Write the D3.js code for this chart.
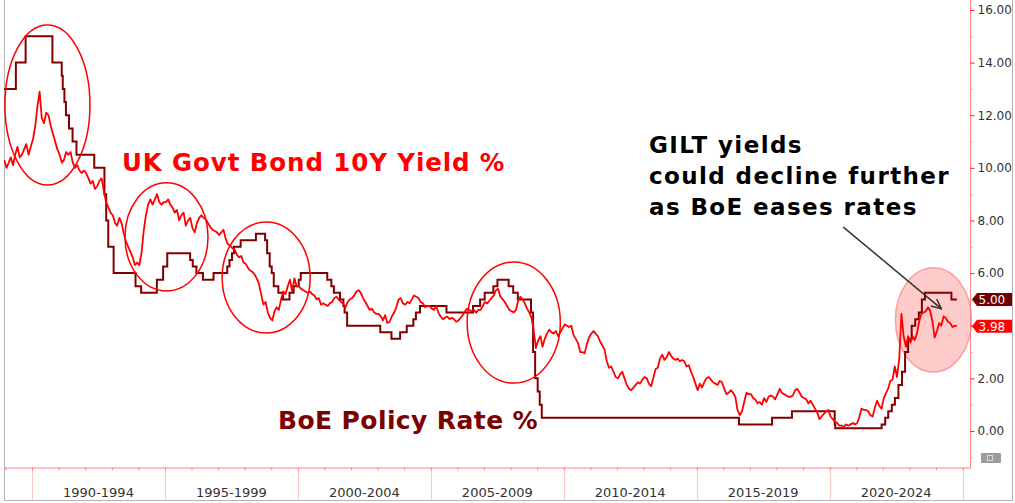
<!DOCTYPE html>
<html lang="en">

<head>
    <meta charset="UTF-8">
    <title>UK Gilt 10Y vs BoE Policy Rate</title>
    <style>
        body { margin: 0; background: #fff; }
        svg { display: block; font-family: "DejaVu Sans", sans-serif; }
    </style>
</head>

<body>
    <svg width="1015" height="503"></svg>
    <script src="https://d3js.org/d3.v7.min.js"></script>
    <script>

        // UK Govt Bond 10Y yield %, one value per month starting Dec 1988
        const giltStart = "1988-12-15";
        const gilt10y = [
            10.3,
            10.0, 10.2, 10.4, 10.1, 10.5, 10.8, 10.4, 10.5, 10.7, 10.9, 10.5, 10.8,   // 1989
            11.1, 11.6, 12.3, 12.9, 11.9, 11.7, 12.1, 12.0, 11.6, 11.3, 11.0, 10.7,   // 1990
            10.5, 10.2, 10.3, 10.6, 10.5, 10.6, 10.2, 10.0, 10.1, 9.9, 9.8, 9.9,      // 1991
            9.8, 9.6, 9.4, 9.5, 9.2, 9.3, 9.5, 9.6, 9.1, 8.7, 8.5, 8.3,               // 1992
            8.2, 7.9, 7.8, 8.1, 7.9, 7.5, 7.2, 7.0, 6.8, 6.6, 6.3, 6.4,               // 1993
            6.3, 6.8, 7.6, 8.2, 8.6, 8.8, 8.6, 8.8, 9.0, 8.7, 8.6, 8.7,               // 1994
            8.7, 8.8, 8.6, 8.5, 8.3, 8.4, 8.0, 8.2, 8.3, 7.8, 8.0, 8.1,               // 1995
            7.7, 7.55, 7.9, 8.1, 8.2, 8.1, 8.05, 7.9, 7.75, 7.65, 7.6, 7.55,          // 1996
            7.45, 7.55, 7.65, 7.3, 7.1, 7.05, 6.95, 6.9, 6.7, 6.6, 6.65, 6.4,         // 1997
            6.35, 6.2, 6.1, 6.05, 5.95, 5.8, 5.6, 5.2, 4.8, 4.9, 4.5, 4.3,            // 1998
            4.2, 4.55, 4.7, 4.6, 5.0, 5.3, 5.2, 5.5, 5.75, 5.3, 5.8, 5.5,             // 1999
            5.5, 5.4, 5.35, 5.3, 5.25, 5.3, 5.2, 5.15, 5.0, 5.05, 4.8, 4.85,          // 2000
            4.8, 4.75, 4.85, 4.9, 5.05, 5.1, 5.0, 4.9, 4.85, 4.7, 4.9, 5.0,           // 2001
            5.05, 5.15, 5.3, 5.35, 5.25, 5.05, 4.9, 4.75, 4.6, 4.65, 4.5, 4.45,       // 2002
            4.45, 4.35, 4.2, 4.4, 4.1, 4.15, 4.35, 4.5, 4.7, 5.0, 5.05, 4.85,         // 2003
            4.8, 4.9, 4.85, 5.0, 5.15, 5.1, 5.05, 4.9, 4.85, 4.7, 4.75, 4.75,         // 2004
            4.65, 4.6, 4.75, 4.5, 4.35, 4.25, 4.3, 4.35, 4.25, 4.3, 4.25, 4.15,       // 2005
            4.2, 4.3, 4.4, 4.55, 4.65, 4.6, 4.55, 4.6, 4.5, 4.6, 4.6, 4.75,           // 2006
            4.9, 4.85, 4.95, 5.05, 5.15, 5.35, 5.4, 5.1, 5.0, 4.9, 4.75, 4.6,         // 2007
            4.55, 4.5, 4.6, 4.95, 5.1, 5.0, 4.85, 4.65, 4.5, 4.3, 3.8, 3.15,          // 2008
            3.45, 3.6, 3.2, 3.5, 3.7, 3.85, 3.75, 3.7, 3.8, 3.6, 3.75, 3.9,           // 2009
            4.05, 4.0, 3.95, 4.0, 3.65, 3.5, 3.35, 3.0, 3.0, 2.95, 3.3, 3.55,         // 2010
            3.7, 3.8, 3.7, 3.6, 3.4, 3.25, 3.1, 2.65, 2.4, 2.45, 2.25, 2.05,          // 2011
            2.0, 2.15, 2.25, 2.0, 1.75, 1.6, 1.55, 1.65, 1.75, 1.85, 1.8, 1.95,       // 2012
            2.05, 2.0, 1.8, 1.7, 2.0, 2.35, 2.4, 2.75, 2.9, 2.7, 2.8, 3.0,            // 2013
            2.85, 2.75, 2.7, 2.75, 2.65, 2.7, 2.65, 2.45, 2.5, 2.25, 2.05, 1.8,       // 2014
            1.55, 1.8, 1.65, 1.85, 2.0, 2.05, 1.95, 1.85, 1.8, 1.75, 1.9, 1.85,       // 2015
            1.6, 1.4, 1.45, 1.55, 1.45, 1.3, 0.8, 0.6, 0.75, 1.1, 1.45, 1.4,          // 2016
            1.4, 1.25, 1.2, 1.05, 1.1, 1.0, 1.25, 1.1, 1.3, 1.35, 1.3, 1.2,           // 2017
            1.4, 1.6, 1.45, 1.4, 1.35, 1.3, 1.3, 1.35, 1.55, 1.6, 1.45, 1.3,          // 2018
            1.25, 1.2, 1.05, 1.15, 1.0, 0.85, 0.7, 0.45, 0.55, 0.65, 0.75, 0.8,       // 2019
            0.55, 0.45, 0.35, 0.3, 0.2, 0.2, 0.15, 0.25, 0.2, 0.25, 0.3, 0.25,        // 2020
            0.3, 0.55, 0.85, 0.8, 0.8, 0.75, 0.6, 0.55, 0.9, 1.15, 0.95, 0.85,        // 2021
            1.25, 1.45, 1.6, 1.9, 1.95, 2.45, 2.05, 2.75, 4.45, 3.6, 3.2, 3.6,        // 2022
            3.35, 3.6, 3.45, 3.7, 4.15, 4.45, 4.5, 4.55, 4.7, 4.55, 4.15, 3.55,       // 2023
            3.8, 4.1, 4.0, 4.35, 4.3, 4.15, 4.1, 3.95, 4.0, 3.98                      // 2024
        ];

        // BoE policy rate %, date of each change
        const policyChanges = [
            ["1988-12-01", 13], ["1989-05-24", 14], ["1989-10-05", 15], ["1990-10-08", 14],
            ["1991-02-13", 13.5], ["1991-02-27", 13], ["1991-03-22", 12.5], ["1991-04-12", 12],
            ["1991-05-24", 11.5], ["1991-07-12", 11], ["1991-09-04", 10.5], ["1992-05-05", 10],
            ["1992-09-22", 9], ["1992-10-16", 8], ["1992-11-13", 7], ["1993-01-26", 6],
            ["1993-11-23", 5.5], ["1994-02-08", 5.25], ["1994-09-12", 5.75], ["1994-12-07", 6.25],
            ["1995-02-02", 6.75], ["1995-12-13", 6.5], ["1996-01-18", 6.25], ["1996-03-08", 6],
            ["1996-06-06", 5.75], ["1996-10-30", 6], ["1997-05-06", 6.25], ["1997-06-06", 6.5],
            ["1997-07-10", 6.75], ["1997-08-07", 7], ["1997-11-06", 7.25], ["1998-06-04", 7.5],
            ["1998-10-08", 7.25], ["1998-11-05", 6.75], ["1998-12-10", 6.25], ["1999-01-07", 6],
            ["1999-02-04", 5.5], ["1999-04-08", 5.25], ["1999-06-10", 5], ["1999-09-08", 5.25],
            ["1999-11-04", 5.5], ["2000-01-13", 5.75], ["2000-02-10", 6], ["2001-02-08", 5.75],
            ["2001-04-05", 5.5], ["2001-05-10", 5.25], ["2001-08-02", 5], ["2001-09-18", 4.75],
            ["2001-10-04", 4.5], ["2001-11-08", 4], ["2003-02-06", 3.75], ["2003-07-10", 3.5],
            ["2003-11-06", 3.75], ["2004-02-05", 4], ["2004-05-06", 4.25], ["2004-06-10", 4.5],
            ["2004-08-05", 4.75], ["2005-08-04", 4.5], ["2006-08-03", 4.75], ["2006-11-09", 5],
            ["2007-01-11", 5.25], ["2007-05-10", 5.5], ["2007-07-05", 5.75], ["2007-12-06", 5.5],
            ["2008-02-07", 5.25], ["2008-04-10", 5], ["2008-10-08", 4.5], ["2008-11-06", 3],
            ["2008-12-04", 2], ["2009-01-08", 1.5], ["2009-02-05", 1], ["2009-03-05", 0.5],
            ["2016-08-04", 0.25], ["2017-11-02", 0.5], ["2018-08-02", 0.75], ["2020-03-11", 0.25],
            ["2020-03-19", 0.1], ["2021-12-16", 0.25], ["2022-02-03", 0.5], ["2022-03-17", 0.75],
            ["2022-05-05", 1], ["2022-06-16", 1.25], ["2022-08-04", 1.75], ["2022-09-22", 2.25],
            ["2022-11-03", 3], ["2022-12-15", 3.5], ["2023-02-02", 4], ["2023-03-23", 4.25],
            ["2023-05-11", 4.5], ["2023-06-22", 5], ["2023-08-03", 5.25], ["2024-08-01", 5],
            ["2024-10-15", 5]
        ];

        const yTicks = [0, 2, 4, 6, 8, 10, 12, 14, 16];
        const yMinorTicks = [-1, 1, 3, 5, 7, 9, 11, 13, 15];
        const periodStarts = [1990, 1995, 2000, 2005, 2010, 2015, 2020, 2025];
        const periodLabels = ["1990-1994", "1995-1999", "2000-2004", "2005-2009",
            "2010-2014", "2015-2019", "2020-2024"];

        // circled episodes: [from, to, top value, bottom value]
        const circled = [
            ["1988-12-25", "1992-03-07", 15.43, 9.35],
            ["1993-07-01", "1996-08-15", 9.43, 5.32],
            ["1997-02-25", "2000-06-18", 7.94, 3.72],
            ["2006-05-15", "2009-11-15", 6.42, 1.82]
        ];
        const focusArea = ["2022-06-24", "2025-05-03", 6.20, 2.24];
        const arrowFrom = ["2020-07-08", 7.75], arrowTo = ["2024-03-17", 4.64];


        let svg = d3.select("svg"),
            plot = { left: 4, right: 970.5, top: 0, bottom: 467.5 },
            parseDate = d3.timeParse("%Y-%m-%d");

        let x = d3.scaleTime()
            .domain([new Date(1988, 11, 12), new Date(2025, 3, 20)])
            .range([plot.left, plot.right]);
        let y = d3.scaleLinear()
            .domain([-1.37, 16.38])
            .range([467, 0]);

        let start = parseDate(giltStart);
        let giltData = gilt10y.map((v, i) => ({ date: d3.timeMonth.offset(start, i), value: v }));
        let policyData = policyChanges.map(d => ({ date: parseDate(d[0]), value: d[1] }));
        let lastGilt = gilt10y[gilt10y.length - 1],
            lastPolicy = policyChanges[policyChanges.length - 1][1];

        svg.append("defs").append("clipPath").attr("id", "plotclip")
            .append("rect")
            .attr("x", plot.left).attr("y", plot.top)
            .attr("width", plot.right - plot.left).attr("height", plot.bottom - plot.top);

        let marker = svg.select("defs").append("marker")
            .attr("id", "arrowhead")
            .attr("viewBox", "0 0 12 12")
            .attr("refX", 11).attr("refY", 6)
            .attr("markerWidth", 12).attr("markerHeight", 12)
            .attr("markerUnits", "userSpaceOnUse")
            .attr("orient", "auto");
        marker.append("path")
            .attr("d", "M1,1.5 L11,6 L1,10.5")
            .attr("fill", "none")
            .attr("stroke", "#333")
            .attr("stroke-width", 1.5);

        // outer frame
        svg.append("rect")
            .attr("x", 4.5).attr("y", -1)
            .attr("width", 1008).attr("height", 501.5)
            .attr("fill", "none")
            .attr("stroke", "#b4b4b4");

        // bottom band: 5-year separators + labels
        svg.append("g").selectAll("line")
            .data(periodStarts)
            .join("line")
            .attr("x1", d => Math.round(x(new Date(d, 0, 1))) + 0.5)
            .attr("x2", d => Math.round(x(new Date(d, 0, 1))) + 0.5)
            .attr("y1", plot.bottom)
            .attr("y2", 500)
            .attr("stroke", "#ffc4c4");

        svg.append("g").selectAll("text")
            .data(periodLabels)
            .join("text")
            .attr("x", (d, i) => (x(new Date(periodStarts[i], 0, 1)) + x(new Date(periodStarts[i + 1], 0, 1))) / 2)
            .attr("y", 497)
            .attr("text-anchor", "middle")
            .attr("font-size", 13)
            .attr("fill", "#333")
            .text(d => d);

        let xAxis = svg.append("g")
            .attr("transform", "translate(0," + plot.bottom + ")")
            .call(d3.axisBottom(x).ticks(d3.timeYear.every(1)).tickSize(3).tickSizeOuter(0).tickFormat(""));
        xAxis.select(".domain").attr("stroke", "#ff8585");
        xAxis.selectAll(".tick line").attr("stroke", "#ff8585");

        // highlighted area behind the lines
        svg.append("ellipse")
            .attr("cx", (x(parseDate(focusArea[0])) + x(parseDate(focusArea[1]))) / 2)
            .attr("cy", (y(focusArea[2]) + y(focusArea[3])) / 2)
            .attr("rx", (x(parseDate(focusArea[1])) - x(parseDate(focusArea[0]))) / 2)
            .attr("ry", (y(focusArea[3]) - y(focusArea[2])) / 2)
            .attr("fill", "rgba(255,0,0,0.2)")
            .attr("stroke", "#ff9c9c")
            .attr("stroke-width", 1.5);

        let lines = svg.append("g").attr("clip-path", "url(#plotclip)");

        lines.append("path")
            .datum(policyData)
            .attr("fill", "none")
            .attr("stroke", "#800000")
            .attr("stroke-width", 2)
            .attr("d", d3.line().curve(d3.curveStepAfter).x(d => x(d.date)).y(d => y(d.value)));

        lines.append("path")
            .datum(giltData)
            .attr("fill", "none")
            .attr("stroke", "#ff0000")
            .attr("stroke-width", 1.8)
            .attr("stroke-linejoin", "round")
            .attr("d", d3.line().x(d => x(d.date)).y(d => y(d.value)));

        // red circles
        svg.append("g").selectAll("ellipse")
            .data(circled)
            .join("ellipse")
            .attr("cx", d => (x(parseDate(d[0])) + x(parseDate(d[1]))) / 2)
            .attr("cy", d => (y(d[2]) + y(d[3])) / 2)
            .attr("rx", d => (x(parseDate(d[1])) - x(parseDate(d[0]))) / 2)
            .attr("ry", d => (y(d[3]) - y(d[2])) / 2)
            .attr("fill", "none")
            .attr("stroke", "#ff0000")
            .attr("stroke-width", 1.5);

        // right axis
        let yAxis = svg.append("g")
            .attr("transform", "translate(" + plot.right + ",0)")
            .call(d3.axisRight(y).tickValues(yTicks).tickSize(4).tickPadding(3)
                .tickSizeOuter(0).tickFormat(d3.format(".2f")));
        yAxis.select(".domain").attr("stroke", "#ff8585").attr("d", "M0,0V" + plot.bottom);
        yAxis.selectAll(".tick line").attr("stroke", "#ff2020");
        yAxis.selectAll(".tick text")
            .attr("fill", "#333")
            .attr("font-size", 12)
            .attr("font-family", "DejaVu Sans, sans-serif");
        yAxis.selectAll(".tick text")
            .filter(d => Math.abs(y(d) - y(lastGilt)) < 9 || Math.abs(y(d) - y(lastPolicy)) < 9)
            .remove();

        let yMinor = svg.append("g")
            .attr("transform", "translate(" + plot.right + ",0)")
            .call(d3.axisRight(y).tickValues(yMinorTicks).tickSize(2).tickFormat(""));
        yMinor.select(".domain").remove();
        yMinor.selectAll(".tick line").attr("stroke", "#ff9c9c");

        // last value tags
        let tags = svg.append("g").selectAll("g")
            .data([{ v: lastPolicy, fill: "#6e0000" }, { v: lastGilt, fill: "#ff0000" }])
            .join("g")
            .attr("transform", d => "translate(0," + y(d.v) + ")");
        tags.append("path")
            .attr("d", "M972,0 L977,-6.5 H1012 V6.5 H977 Z")
            .attr("fill", d => d.fill);
        tags.append("text")
            .attr("x", 978.5)
            .attr("dy", "0.36em")
            .attr("font-size", 12)
            .attr("fill", "#fff")
            .text(d => d3.format(".2f")(d.v));

        // small grey options button
        svg.append("rect")
            .attr("x", 981).attr("y", 453).attr("width", 20).attr("height", 10).attr("rx", 1)
            .attr("fill", "#9c9c9c");
        svg.append("rect")
            .attr("x", 987.5).attr("y", 455.5).attr("width", 5).attr("height", 5)
            .attr("fill", "none").attr("stroke", "#dcdcdc");

        // labels
        svg.append("text")
            .attr("x", 122).attr("y", 171)
            .attr("font-size", 24.5).attr("font-weight", "bold")
            .attr("letter-spacing", 0.9)
            .attr("fill", "#ff0000")
            .text("UK Govt Bond 10Y Yield %");

        svg.append("text")
            .attr("x", 278).attr("y", 429)
            .attr("font-size", 25).attr("font-weight", "bold")
            .attr("letter-spacing", 0.4)
            .attr("fill", "#7b0000")
            .text("BoE Policy Rate %");

        svg.append("text")
            .attr("font-size", 23).attr("font-weight", "bold")
            .attr("letter-spacing", 1.4)
            .attr("fill", "#000")
            .selectAll("tspan")
            .data(["GILT yields", "could decline further", "as BoE eases rates"])
            .join("tspan")
            .attr("x", 649)
            .attr("y", (d, i) => 153 + i * 31)
            .text(d => d);

        svg.append("line")
            .attr("x1", x(parseDate(arrowFrom[0]))).attr("y1", y(arrowFrom[1]))
            .attr("x2", x(parseDate(arrowTo[0]))).attr("y2", y(arrowTo[1]))
            .attr("stroke", "#333")
            .attr("stroke-width", 1.5)
            .attr("marker-end", "url(#arrowhead)");

    </script>

</body>

</html>
